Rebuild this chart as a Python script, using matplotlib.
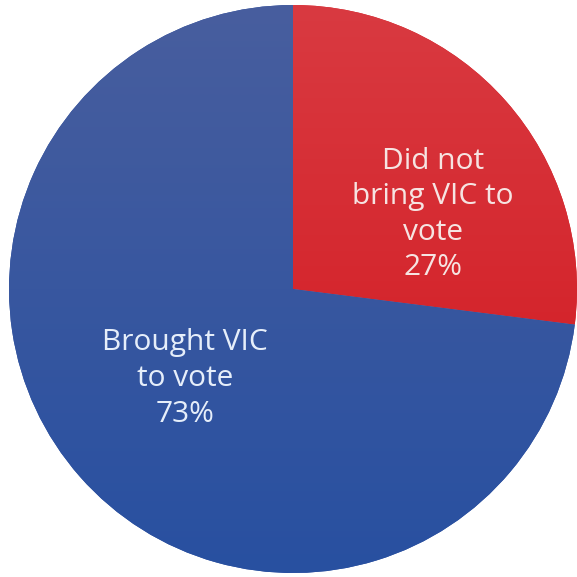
import matplotlib
matplotlib.use("Agg")
import numpy as np
import matplotlib.pyplot as plt
from matplotlib.colors import LinearSegmentedColormap

# Survey share: did voters bring a VIC (voter ID card) to vote
categories = ["Did not\nbring VIC to\nvote", "Brought VIC\nto vote"]
shares = [27, 73]
colors = ["#D41C22", "#2D509F"]
shade_top = ["#D93A41", "#485E9E"]
shade_bottom = ["#D1151C", "#2850A1"]
text_colors = ["#F6E4E2", "#E6EEFA"]
label_pos = [(0.493, 0.262), (-0.38, -0.315)]

fig = plt.figure(figsize=(5.77, 5.77), dpi=100)
cx, cy, r = 293, 289, 284
W = H = 577
ax = fig.add_axes([(cx - r) / W, (H - cy - r) / H, 2 * r / W, 2 * r / H])

wedges, _ = ax.pie(shares, colors=colors, startangle=90, counterclock=False,
                   radius=1.0, wedgeprops=dict(linewidth=0))

# soft vertical shading inside each slice
grad = np.linspace(1, 0, 256).reshape(-1, 1)
for w, top, bot in zip(wedges, shade_top, shade_bottom):
    cmap = LinearSegmentedColormap.from_list("shade", [bot, top])
    im = ax.imshow(grad, extent=[-1, 1, -1, 1], cmap=cmap, aspect="auto",
                   origin="upper", zorder=w.get_zorder() + 0.1,
                   interpolation="bilinear")
    im.set_clip_path(w)

ax.set_xlim(-1, 1)
ax.set_ylim(-1, 1)
ax.set_aspect("equal")
ax.axis("off")

for cat, val, (x, y), tc in zip(categories, shares, label_pos, text_colors):
    ax.text(x, y, f"{cat}\n{val}%", ha="center", va="center", color=tc,
            fontsize=21.5, family=["Open Sans", "DejaVu Sans"], linespacing=1.3,
            zorder=5)

fig.savefig("out.png", dpi=100, facecolor="white")
